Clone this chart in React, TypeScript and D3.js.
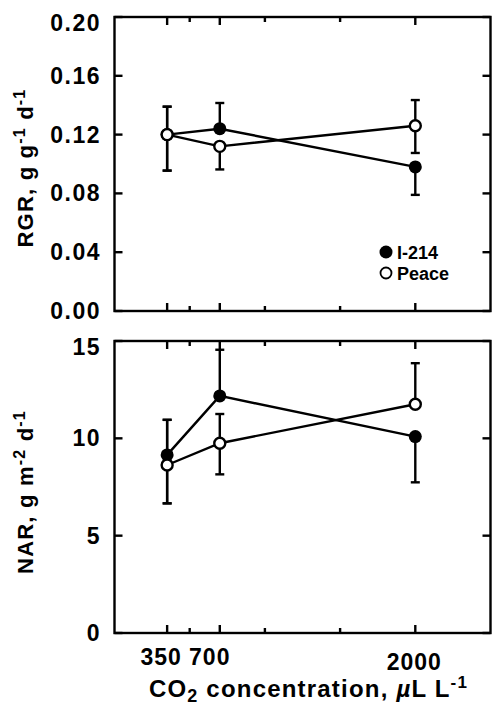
import React, { useEffect, useRef } from "react";
import * as d3 from "d3";

// CO2 levels (x) and axis ticks
const co2Levels = [350, 700, 2000];
const xTickValues = [350, 500, 700, 1000, 1500, 2000];
const xLabelTicks = [350, 700, 2000];

const rgrTicks = [0, 0.04, 0.08, 0.12, 0.16, 0.2];
const narTicks = [0, 5, 10, 15];

// RGR, g g-1 d-1
const rgrI214 = [0.12, 0.124, 0.098];
const rgrPeace = [0.12, 0.112, 0.126];
const rgrI214Hi = [0.139, 0.1415, null];
const rgrI214Lo = [0.0955, null, 0.079];
const rgrPeaceHi = [0.139, null, 0.1435];
const rgrPeaceLo = [0.0955, 0.0963, 0.1075];

// NAR, g m-2 d-1
const narI214 = [9.15, 12.18, 10.09];
const narPeace = [8.63, 9.75, 11.75];
const narI214Hi = [10.95, 14.55, null];
const narI214Lo = [6.66, null, 7.74];
const narPeaceHi = [10.95, 11.25, 13.86];
const narPeaceLo = [6.66, 8.15, null];

const seriesNames = ["I-214", "Peace"];

const FONT = "'Liberation Sans', Arial, Helvetica, sans-serif";
const SW = 2.4; // stroke width of the scanned lines

type Series = {
  values: number[];
  hi: (number | null)[];
  lo: (number | null)[];
  filled: boolean;
};

const App = () => {
  const svgRef = useRef<SVGSVGElement>(null);

  useEffect(() => {
    const svg = d3.select(svgRef.current);
    svg.selectAll("*").remove();

    const x = d3.scaleLinear().domain([0, 2500]).range([114.5, 490.5]);
    const yTop = d3.scaleLinear().domain([0, 0.2]).range([311, 17]);
    const yBot = d3.scaleLinear().domain([0, 15]).range([633, 341]);

    const drawPanel = (
      y: d3.ScaleLinear<number, number>,
      ticks: number[],
      fmt: (v: number) => string,
      series: Series[]
    ) => {
      const g = svg.append("g");
      const [x0, x1] = x.range();
      const [yb, yt] = y.range();

      // inward ticks, left and right
      ticks.forEach((t) => {
        g.append("line")
          .attr("x1", x0).attr("x2", x0 + 8)
          .attr("y1", y(t)).attr("y2", y(t))
          .attr("stroke", "#000").attr("stroke-width", SW);
        g.append("line")
          .attr("x1", x1).attr("x2", x1 - 8)
          .attr("y1", y(t)).attr("y2", y(t))
          .attr("stroke", "#000").attr("stroke-width", SW);
        // top label pushed down a bit like the original
        const cy = t === ticks[ticks.length - 1] ? y(t) + 6 : y(t);
        g.append("text")
          .attr("x", x0 - 13.5)
          .attr("y", cy + 8)
          .attr("text-anchor", "end")
          .style("font-family", FONT)
          .style("font-weight", "bold")
          .style("font-size", "23px")
          .style("letter-spacing", "1.5px")
          .text(fmt(t));
      });

      // inward ticks, bottom and top
      xTickValues.forEach((t) => {
        const len = xLabelTicks.includes(t) ? 8 : 5;
        g.append("line")
          .attr("x1", x(t)).attr("x2", x(t))
          .attr("y1", yb).attr("y2", yb - len)
          .attr("stroke", "#000").attr("stroke-width", SW);
        g.append("line")
          .attr("x1", x(t)).attr("x2", x(t))
          .attr("y1", yt).attr("y2", yt + len)
          .attr("stroke", "#000").attr("stroke-width", SW);
      });

      // lines
      const line = d3
        .line<number>()
        .x((d, i) => x(co2Levels[i]))
        .y((d) => y(d));
      series.forEach((s) => {
        g.append("path")
          .attr("d", line(s.values))
          .attr("fill", "none")
          .attr("stroke", "#000")
          .attr("stroke-width", SW);
      });

      // error bars
      series.forEach((s) => {
        s.values.forEach((v, i) => {
          const cx = x(co2Levels[i]);
          [s.hi[i], s.lo[i]].forEach((e) => {
            if (e === null) return;
            g.append("line")
              .attr("x1", cx).attr("x2", cx)
              .attr("y1", y(v)).attr("y2", y(e))
              .attr("stroke", "#000").attr("stroke-width", SW);
            g.append("line")
              .attr("x1", cx - 4.5).attr("x2", cx + 4.5)
              .attr("y1", y(e)).attr("y2", y(e))
              .attr("stroke", "#000").attr("stroke-width", SW);
          });
        });
      });

      // markers, filled first then open on top
      series.forEach((s) => {
        g.selectAll(null)
          .data(s.values)
          .enter()
          .append("circle")
          .attr("cx", (d, i) => x(co2Levels[i]))
          .attr("cy", (d) => y(d))
          .attr("r", s.filled ? 6.5 : 5.5)
          .attr("fill", s.filled ? "#000" : "#fff")
          .attr("stroke", "#000")
          .attr("stroke-width", s.filled ? 0 : SW);
      });

      // frame
      g.append("rect")
        .attr("x", x0).attr("y", yt)
        .attr("width", x1 - x0).attr("height", yb - yt)
        .attr("fill", "none")
        .attr("stroke", "#000")
        .attr("stroke-width", SW);

      return g;
    };

    const gTop = drawPanel(yTop, rgrTicks, d3.format(".2f"), [
      { values: rgrI214, hi: rgrI214Hi, lo: rgrI214Lo, filled: true },
      { values: rgrPeace, hi: rgrPeaceHi, lo: rgrPeaceLo, filled: false },
    ]);
    drawPanel(yBot, narTicks, d3.format("d"), [
      { values: narI214, hi: narI214Hi, lo: narI214Lo, filled: true },
      { values: narPeace, hi: narPeaceHi, lo: narPeaceLo, filled: false },
    ]);

    // legend
    const lx = x.range()[1] - 104.5;
    const ly = yTop.range()[0] - 59;
    seriesNames.forEach((name, i) => {
      gTop.append("circle")
        .attr("cx", lx)
        .attr("cy", ly + i * 21)
        .attr("r", i === 0 ? 6.5 : 5.5)
        .attr("fill", i === 0 ? "#000" : "#fff")
        .attr("stroke", "#000")
        .attr("stroke-width", i === 0 ? 0 : 1.8);
      gTop.append("text")
        .attr("x", lx + 11)
        .attr("y", ly + i * 21 + 6.5)
        .style("font-family", FONT)
        .style("font-weight", "bold")
        .style("font-size", "18px")
        .text(name);
    });

    // x tick labels
    const labelShift: Record<number, [number, number]> = {
      350: [-6, 665],
      700: [-10, 665],
      2000: [-1, 670],
    };
    xLabelTicks.forEach((t) => {
      svg.append("text")
        .attr("x", x(t) + labelShift[t][0])
        .attr("y", labelShift[t][1])
        .attr("text-anchor", "middle")
        .style("font-family", FONT)
        .style("font-weight", "bold")
        .style("font-size", "23px")
        .style("letter-spacing", "1px")
        .text(String(t));
    });

    // x title
    const xt = svg.append("text")
      .attr("x", (x.range()[0] + x.range()[1]) / 2 + 6)
      .attr("y", 697)
      .attr("text-anchor", "middle")
      .style("font-family", FONT)
      .style("font-weight", "bold")
      .style("font-size", "24px")
      .style("letter-spacing", "1.2px");
    xt.append("tspan").text("CO");
    xt.append("tspan").attr("dy", 5).style("font-size", "18px").text("2");
    xt.append("tspan").attr("dy", -5).text(" concentration, ");
    xt.append("tspan").style("font-style", "italic").text("\u00b5");
    xt.append("tspan").text("L L");
    xt.append("tspan").attr("dy", -9).style("font-size", "17px").text("-1");

    // y titles
    const yTitle = (
      cy: number,
      main: string,
      sup1: string,
      mid: string,
      sup2: string
    ) => {
      const t = svg.append("text")
        .attr("transform", `translate(33,${cy}) rotate(-90)`)
        .attr("text-anchor", "middle")
        .style("font-family", FONT)
        .style("font-weight", "bold")
        .style("font-size", "22px")
        .style("letter-spacing", "1.2px");
      t.append("tspan").text(main);
      t.append("tspan").attr("dy", -8).style("font-size", "16px").text(sup1);
      t.append("tspan").attr("dy", 8).text(mid);
      t.append("tspan").attr("dy", -8).style("font-size", "16px").text(sup2);
    };
    yTitle((yTop.range()[0] + yTop.range()[1]) / 2 + 4, "RGR, g g", "-1", " d", "-1");
    yTitle((yBot.range()[0] + yBot.range()[1]) / 2 + 5, "NAR, g m", "-2", " d", "-1");
  }, []);

  return (
    <svg
      ref={svgRef}
      width={492}
      height={709}
      style={{ position: "absolute", left: 0, top: 0, background: "#fff" }}
    ></svg>
  );
};

export default App;
